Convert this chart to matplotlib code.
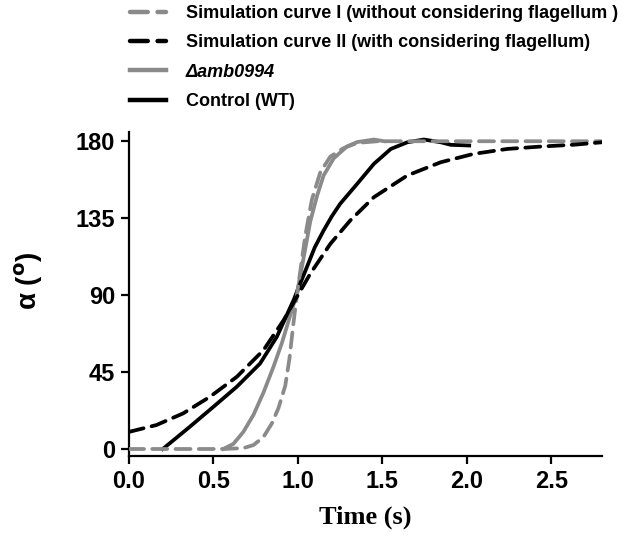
import matplotlib
matplotlib.use("Agg")
import matplotlib.pyplot as plt

# Simulation curve I (without flagellum)
sim1_t = [0.0, 0.558, 0.677, 0.737, 0.796, 0.846, 0.885, 0.925, 0.950, 0.974,
          0.994, 1.014, 1.044, 1.083, 1.133, 1.192, 1.271, 1.35, 1.47, 2.8]
sim1_a = [0, 0, 0.5, 2.3, 7, 15, 24, 37, 53, 74,
          90, 104, 125, 146, 162, 171, 176, 179, 180, 180]

# Simulation curve II (with flagellum)
sim2_t = [0.0, 0.162, 0.32, 0.48, 0.638, 0.796, 0.915, 0.994, 1.073, 1.192,
          1.31, 1.45, 1.648, 1.845, 2.04, 2.24, 2.44, 2.64, 2.8]
sim2_a = [10, 14, 20.8, 30.6, 42.2, 57.8, 75.3, 89, 102.5, 120,
          133.7, 147.3, 160, 167.7, 172.6, 175.5, 176.9, 178, 179.4]

# delta amb0994 mutant
mut_t = [0.558, 0.618, 0.677, 0.737, 0.796, 0.855, 0.905, 0.954, 0.994, 1.034,
         1.073, 1.113, 1.152, 1.212, 1.291, 1.35, 1.45, 1.51]
mut_a = [0, 3, 10, 20, 33, 48, 62, 78, 91, 112,
         133, 148, 160, 170, 177, 179.5, 181, 180]

# Control (WT)
wt_t = [0.2, 0.36, 0.5, 0.638, 0.776, 0.875, 0.974, 1.053, 1.10, 1.152, 1.20, 1.25,
        1.35, 1.45, 1.55, 1.648, 1.746, 1.845, 1.905, 2.014]
wt_a = [0, 13, 24.7, 36.4, 50, 65.6, 87, 106.4, 118, 127.8, 136, 143.4,
        155, 166.8, 175.5, 179.4, 181, 179.4, 177.9, 177.5]

labels = ["Simulation curve I (without considering flagellum )",
          "Simulation curve II (with considering flagellum)",
          "Δamb0994",
          "Control (WT)"]

xticks = [0.0, 0.5, 1.0, 1.5, 2.0, 2.5]
yticks = [0, 45, 90, 135, 180]

GRAY = "#8a8a8a"

plt.rcParams["font.family"] = ["Liberation Sans", "DejaVu Sans"]
plt.rcParams["font.weight"] = "bold"

fig = plt.figure(figsize=(6.38, 5.39), dpi=100)
ax = fig.add_axes([129 / 638, 83 / 539, 473 / 638, 324 / 539])

lw = 2.7
ax.plot(sim1_t, sim1_a, color=GRAY, lw=lw, dashes=(4, 2.2), dash_capstyle="round", label=labels[0], zorder=3)
ax.plot(sim2_t, sim2_a, color="black", lw=lw, dashes=(4, 2.2), dash_capstyle="round", label=labels[1], zorder=4)
ax.plot(mut_t, mut_a, color=GRAY, lw=lw, label=labels[2], zorder=2)
ax.plot(wt_t, wt_a, color="black", lw=lw, label=labels[3], zorder=2)

ax.set_xlim(0, 2.8)
ax.set_ylim(-4.1, 185.4)
ax.set_xticks(xticks)
ax.set_xticklabels([f"{v:.1f}" for v in xticks])
ax.set_yticks(yticks)
ax.set_yticklabels([str(v) for v in yticks])

for side in ["top", "right"]:
    ax.spines[side].set_visible(False)
for side in ["left", "bottom"]:
    ax.spines[side].set_linewidth(1.6)
ax.tick_params(direction="out", length=6, width=1.6, labelsize=17, pad=4)
for lab in ax.get_xticklabels() + ax.get_yticklabels():
    lab.set_fontweight("bold")

ax.set_xlabel("Time (s)", family="Liberation Serif", fontweight="bold", fontsize=19, labelpad=9)
ax.set_ylabel("α (${}^{\\mathrm{o}}$)", fontsize=20, fontweight="bold")
ax.yaxis.set_label_coords(-0.177, 0.54)

leg = fig.legend(loc="upper left", bbox_to_anchor=(130 / 638, 1 - 5 / 539),
                 frameon=False, fontsize=13, handlelength=2.0, handletextpad=1.1,
                 labelspacing=0.68, borderpad=0, borderaxespad=0)
for line in leg.get_lines():
    line.set_linewidth(3.2)
for t in leg.get_texts():
    t.set_fontweight("bold")
leg.get_texts()[2].set_fontstyle("italic")

fig.savefig("out.png", dpi=100)
